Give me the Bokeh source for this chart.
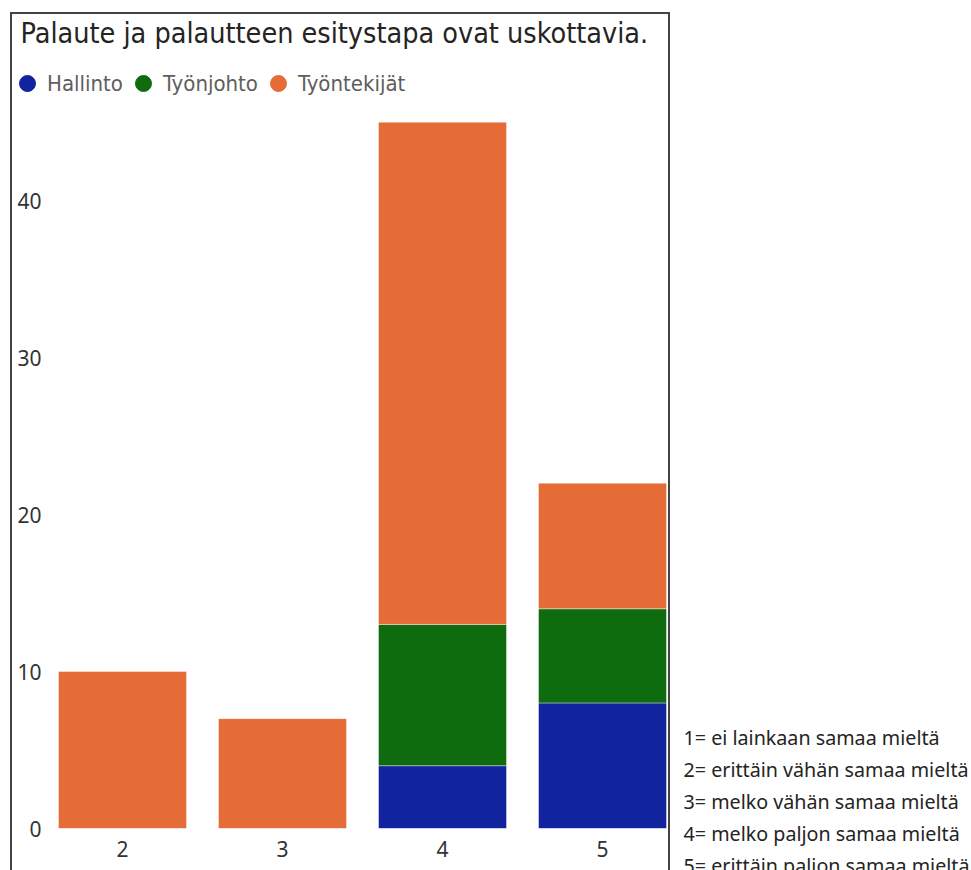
from bokeh.plotting import figure
from bokeh.models import Range1d, FixedTicker, Label, Legend, LegendItem, ColumnDataSource
from bokeh.layouts import row, column
from bokeh.embed import file_html
from bokeh.resources import INLINE

title_text = "Palaute ja palautteen esitystapa ovat uskottavia."
categories = [2, 3, 4, 5]
series = ["Hallinto", "Työnjohto", "Työntekijät"]
hallinto = [0, 0, 4, 8]
tyonjohto = [0, 0, 9, 6]
tyontekijat = [10, 7, 32, 8]
colors = ["#12239E", "#0E6B0E", "#E66C37"]
y_ticks = [0, 10, 20, 30, 40]
notes = [
    "1= ei lainkaan samaa mieltä",
    "2= erittäin vähän samaa mieltä",
    "3= melko vähän samaa mieltä",
    "4= melko paljon samaa mieltä",
    "5= erittäin paljon samaa mieltä",
]

TITLE_FONT = "DejaVu Sans Condensed"
UI_FONT = "Noto Sans"

# geometry (page pixels)
BOX_L, BOX_T, BORDER = 10, 12, 2
CW = 656                      # inner width of bordered visual
HDR_H = 92                    # header height
FRAME_L = 42                  # plot frame left on page
ZERO_Y = 828                  # page y of value 0
PX_PER_UNIT = 15.696
PAGE_H = 870
STEP = 160
NOTES_W = 971 - (BOX_L + 2 * BORDER + CW)

in_x0 = BOX_L + BORDER        # 12
in_y0 = BOX_T + BORDER        # 14
chart_top = in_y0 + HDR_H     # 106
chart_h = PAGE_H - chart_top  # 764

# ---------- header: title + legend ----------
hdr = figure(width=CW, height=HDR_H, x_range=Range1d(0, 1), y_range=Range1d(0, 1),
             output_backend="svg", toolbar_location=None, min_border=0,
             x_axis_location=None, y_axis_location=None)
hdr.title.visible = False
hdr.outline_line_color = None
hdr.grid.visible = False

hdr.add_layout(Label(x=20 - in_x0, y=chart_top - 33, x_units="screen", y_units="screen", text=title_text,
                     text_font=TITLE_FONT, text_font_size="28.5px", text_color="#252423",
                     text_baseline="middle"))

nan = float("nan")
items = []
for name, c in zip(series, colors):
    r = hdr.scatter(x=[nan], y=[nan], marker="circle", size=17, color=c)
    items.append(LegendItem(label=name, renderers=[r]))
GL = 40
leg = Legend(items=items, orientation="horizontal",
             location=(27 - GL // 2 - in_x0, chart_top - 83 - GL // 2),
             label_text_font=TITLE_FONT, label_text_font_size="22px", label_text_color="#605E5C",
             glyph_width=GL, glyph_height=GL, label_standoff=0, spacing=0, padding=0, margin=0,
             border_line_color=None, background_fill_alpha=0)
hdr.add_layout(leg, "center")

# ---------- chart ----------
src = ColumnDataSource(dict(x=categories, Hallinto=hallinto, Työnjohto=tyonjohto, Työntekijät=tyontekijat))
ml = FRAME_L - in_x0
p = figure(width=CW, height=chart_h,
           x_range=Range1d(1.5, 1.5 + (CW - ml) / STEP),
           y_range=Range1d(0, (ZERO_Y - chart_top) / PX_PER_UNIT),
           output_backend="svg", toolbar_location=None,
           min_border_left=ml, min_border_right=0, min_border_top=0,
           min_border_bottom=PAGE_H - ZERO_Y)
p.title.visible = False
p.outline_line_color = None
p.xgrid.grid_line_color = None
p.ygrid.grid_line_color = None

p.vbar_stack(series, x="x", width=0.8, source=src, color=colors,
             line_color="white", line_alpha=0.4, line_width=1)

for ax in (p.xaxis[0], p.yaxis[0]):
    ax.axis_line_color = None
    ax.major_tick_line_color = None
    ax.minor_tick_line_color = None
    ax.major_tick_out = 0
    ax.major_tick_in = 0
    ax.minor_tick_out = 0
    ax.minor_tick_in = 0
    ax.major_label_text_font = UI_FONT
    ax.major_label_text_font_size = "21px"
    ax.major_label_text_color = "#333333"
p.xaxis.ticker = FixedTicker(ticks=categories)
p.yaxis.ticker = FixedTicker(ticks=y_ticks)
p.yaxis.major_label_standoff = 1
p.xaxis.major_label_standoff = 12

# ---------- notes ----------
nf = figure(width=NOTES_W, height=PAGE_H, x_range=Range1d(0, 1), y_range=Range1d(0, 1),
            output_backend="svg", toolbar_location=None, min_border=0,
            x_axis_location=None, y_axis_location=None)
nf.title.visible = False
nf.outline_line_color = None
nf.grid.visible = False
notes_x0 = 971 - NOTES_W
for i, t in enumerate(notes):
    nf.add_layout(Label(x=683 - notes_x0, y=PAGE_H - (737 + 32 * i), x_units="screen", y_units="screen",
                        text=t, text_font=UI_FONT, text_font_size="19.7px", text_color="#252423",
                        text_baseline="middle"))

visual = column(row(hdr), p, spacing=0)
visual.margin = (BOX_T, 0, 0, BOX_L)
visual.styles = {"border-left": f"{BORDER}px solid #444444", "border-top": f"{BORDER}px solid #444444",
                 "border-right": f"{BORDER}px solid #444444"}
layout = row(visual, nf, spacing=0)

open("out.html", "w").write(file_html(layout, INLINE))
